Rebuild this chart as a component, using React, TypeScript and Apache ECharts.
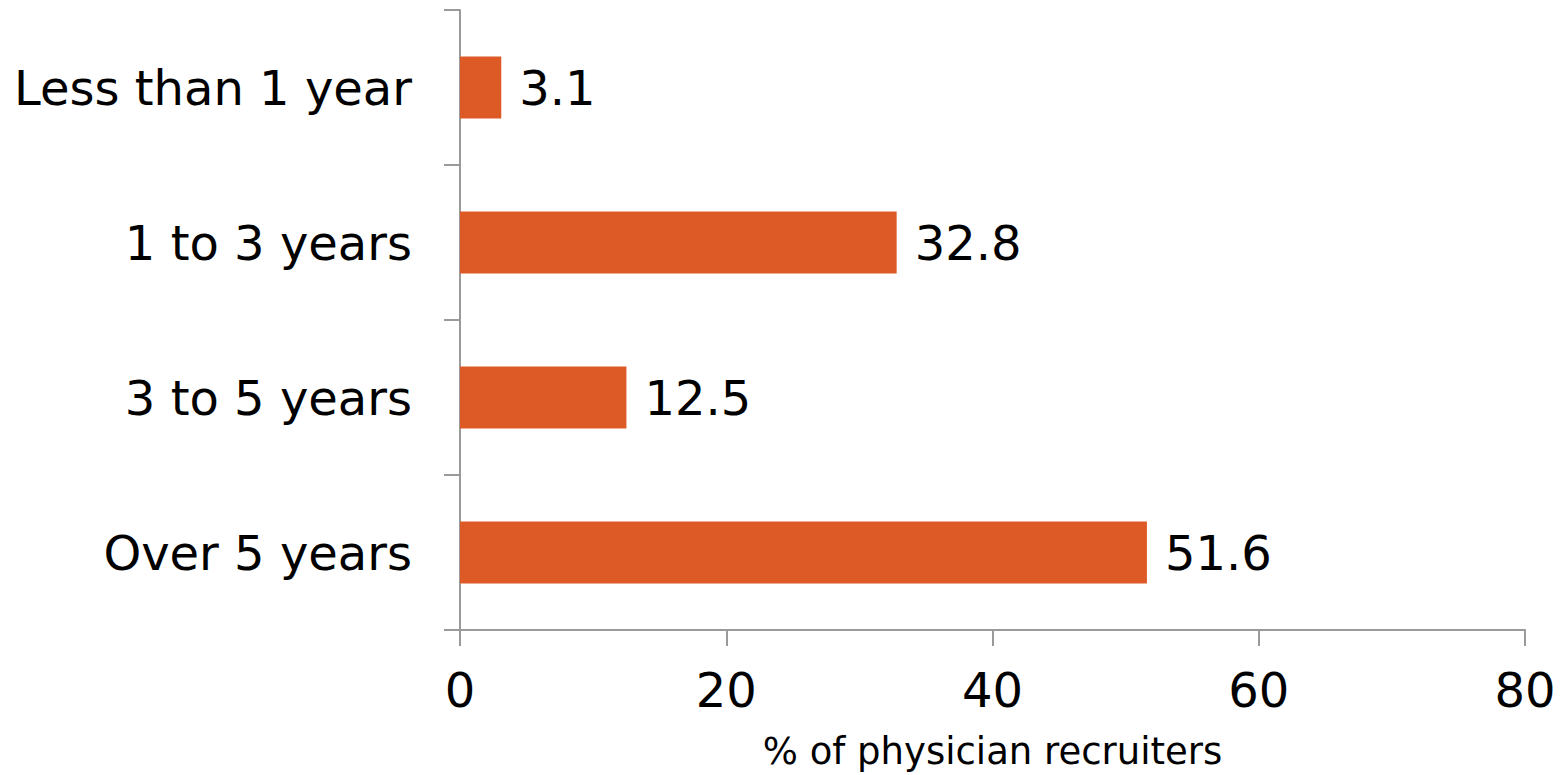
import React, { useEffect, useRef } from "react";
import * as echarts from "echarts";

const categories = ["Less than 1 year", "1 to 3 years", "3 to 5 years", "Over 5 years"];
const shares = [3.1, 32.8, 12.5, 51.6];
const xTicks = [0, 20, 40, 60, 80];
const xAxisTitle = "% of physician recruiters";

const FONT = "'DejaVu Sans', sans-serif";
const AXIS_GREY = "#9a9a9a";

export default function App() {
  const ref = useRef<HTMLDivElement>(null);

  useEffect(() => {
    if (!ref.current) return;
    const chart = echarts.init(ref.current, undefined, { renderer: "svg" });
    chart.setOption({
      animation: false,
      backgroundColor: "#ffffff",
      grid: { left: 460, right: 39, top: 10, bottom: 138, containLabel: false },
      xAxis: {
        type: "value",
        min: xTicks[0],
        max: xTicks[xTicks.length - 1],
        interval: xTicks[1] - xTicks[0],
        splitLine: { show: false },
        axisLine: { show: true, lineStyle: { color: AXIS_GREY, width: 2 } },
        axisTick: { show: true, length: 16, lineStyle: { color: AXIS_GREY, width: 2 } },
        axisLabel: { color: "#000", fontFamily: FONT, fontSize: 48, margin: 36 },
        name: xAxisTitle,
        nameLocation: "middle",
        nameGap: 103,
        nameTextStyle: { color: "#000", fontFamily: FONT, fontSize: 37 },
      },
      yAxis: {
        type: "category",
        data: categories,
        inverse: true,
        axisLine: { show: true, lineStyle: { color: AXIS_GREY, width: 2 } },
        axisTick: { show: true, length: 16, lineStyle: { color: AXIS_GREY, width: 2 } },
        axisLabel: { color: "#000", fontFamily: FONT, fontSize: 48, margin: 48 },
      },
      series: [
        {
          type: "bar",
          data: shares,
          barWidth: "40%",
          itemStyle: { color: "#DD5A26" },
          label: {
            show: true,
            position: "right",
            distance: 18,
            color: "#000",
            fontFamily: FONT,
            fontSize: 48,
            formatter: (p: any) => p.value.toFixed(1),
          },
        },
      ],
    });
    return () => chart.dispose();
  }, []);

  return (
    <div
      ref={ref}
      style={{ position: "fixed", left: 0, top: 0, width: 1564, height: 775 }}
    />
  );
}
